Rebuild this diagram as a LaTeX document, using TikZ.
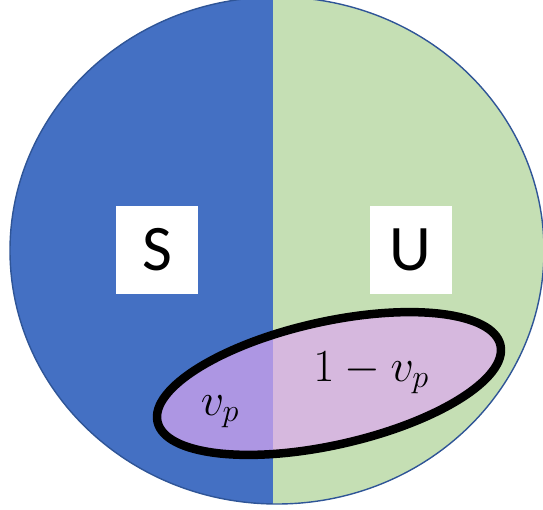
\RequirePackage{fix-cm}
\documentclass[tikz,border=0pt]{standalone}
\usepackage{fontspec}
\newfontfamily\carlito{Carlito}
\definecolor{sblue}{HTML}{4470C3}
\definecolor{ugreen}{HTML}{C5DFB4}
\definecolor{rimblue}{HTML}{2F5597}
\definecolor{vpleft}{HTML}{AD96E3}
\definecolor{vpright}{HTML}{D6B8DE}
\tikzset{
  labelbox/.style={fill=white, draw=none, minimum width=82pt, minimum height=88pt, inner sep=0pt, font=\carlito\fontsize{65}{70}\selectfont},
  mathlbl/.style={inner sep=0pt, anchor=base, font=\fontsize{46}{54}\selectfont},
}
\begin{document}
\begin{tikzpicture}[x=1pt,y=-1pt]
\useasboundingbox (0,0) rectangle (543,510);
% big disc split in two halves
\begin{scope}
  \clip (277,250.5) ellipse [x radius=267, y radius=253.5];
  \fill[sblue] (0,-10) rectangle (273,520);
  \fill[ugreen] (273,-10) rectangle (560,520);
\end{scope}
\draw[rimblue, line width=1.4pt] (277,250.5) ellipse [x radius=267, y radius=253.5];
% boxes
\node[labelbox] (S) at (157,250) {S};
\node[labelbox] (U) at (410.5,250) {U};
% purple ellipse
\begin{scope}
  \clip[rotate around={12.6:(329,383.5)}] (329,383.5) ellipse [x radius=175.7, y radius=61.7];
  \fill[vpleft] (100,280) rectangle (273,480);
  \fill[vpright] (273,280) rectangle (560,480);
\end{scope}
\draw[black, line width=8.5pt, rotate around={12.6:(329,383.5)}] (329,383.5) ellipse [x radius=175.7, y radius=61.7];
\node[mathlbl] (vp) at (220,415) {$v_p$};
\node[mathlbl] (onevp) at (371,381) {$1-v_p$};
\end{tikzpicture}
\end{document}
